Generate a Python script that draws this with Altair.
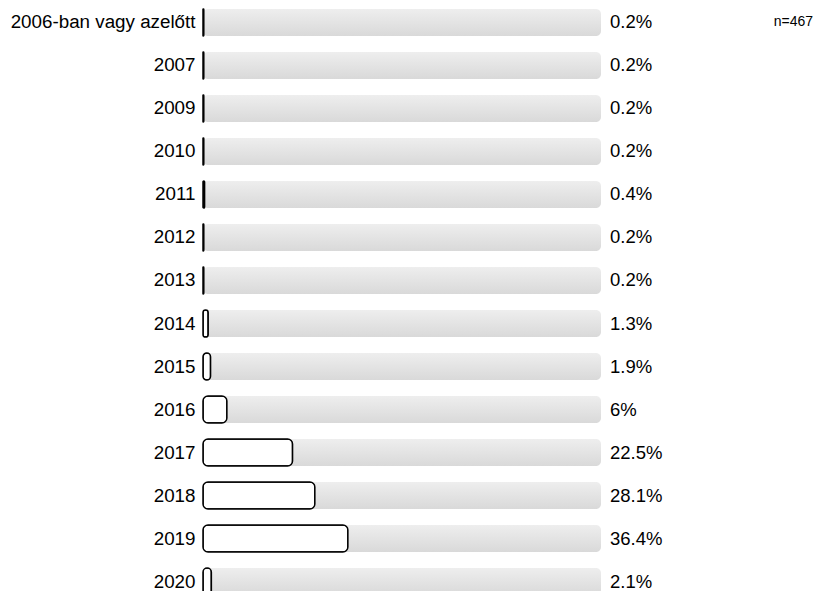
import altair as alt
import pandas as pd

categories = ["2006-ban vagy azelőtt", "2007", "2009", "2010", "2011", "2012", "2013",
              "2014", "2015", "2016", "2017", "2018", "2019", "2020"]
values = [0.2, 0.2, 0.2, 0.2, 0.4, 0.2, 0.2, 1.3, 1.9, 6, 22.5, 28.1, 36.4, 2.1]
value_labels = ["0.2%", "0.2%", "0.2%", "0.2%", "0.4%", "0.2%", "0.2%",
                "1.3%", "1.9%", "6%", "22.5%", "28.1%", "36.4%", "2.1%"]
n_text = "n=467"

df = pd.DataFrame({"cat": categories, "val": values, "lbl": value_labels, "full": [100] * len(categories)})

FONT = "Liberation Sans"

yenc = alt.Y("cat:N", sort=categories,
             scale=alt.Scale(paddingInner=0.372, paddingOuter=0.023),
             axis=alt.Axis(title=None, ticks=False, domain=False, labelFontSize=18.8,
                           labelFont=FONT, labelColor="#000000", labelPadding=8,
                           labelLimit=400, grid=False))
xscale = alt.Scale(domain=[0, 100])

base = alt.Chart(df)

track = base.mark_bar(
    cornerRadius=5,
    color=alt.Gradient(gradient="linear", x1=0, x2=0, y1=0, y2=1,
                       stops=[alt.GradientStop(color="#eeeeee", offset=0),
                              alt.GradientStop(color="#d9d9d9", offset=1)])
).encode(
    y=yenc,
    x=alt.X("full:Q", scale=xscale, axis=None),
)

bars = base.mark_bar(
    cornerRadius=5, fill="#ffffff", stroke="#000000", strokeWidth=1.5
).encode(
    y=yenc,
    x=alt.X("val:Q", scale=xscale, axis=None),
)

texts = base.mark_text(
    align="left", baseline="middle", dx=9, fontSize=18.5, font=FONT, color="#000000"
).encode(
    y=yenc,
    x=alt.datum(100),
    text="lbl:N",
)

ntxt = alt.Chart(pd.DataFrame({"t": [n_text]})).mark_text(
    align="right", baseline="middle", fontSize=14, font=FONT, color="#000000"
).encode(
    x=alt.value(610), y=alt.value(14), text="t:N"
)

chart = alt.layer(track, bars, texts, ntxt).properties(
    width=398, height=588,
    autosize=alt.AutoSizeParams(type="none"),
    padding={"left": 195, "top": 0, "right": 213, "bottom": 0},
).configure(font=FONT).configure_view(stroke=None)

chart.save("out.html", embed_options={"renderer": "svg", "actions": False})
